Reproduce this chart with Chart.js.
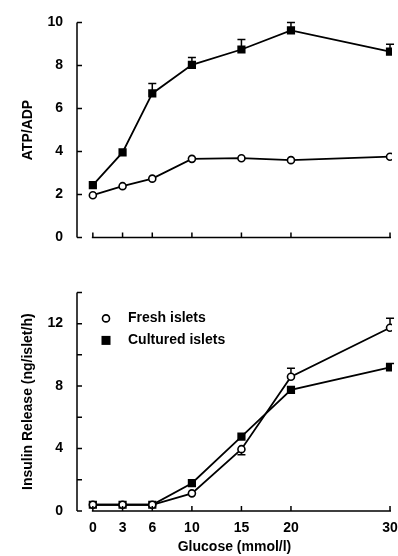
<!DOCTYPE html>
<html>
<head>
<meta charset="utf-8">
<script src="https://cdn.jsdelivr.net/npm/chart.js@4"></script>
<style>
  html, body { margin: 0; padding: 0; background: #fff; }
  #wrap { position: relative; width: 398px; height: 556px; overflow: hidden; }
  #topBox { position: absolute; left: 0; top: 0; }
  #botBox { position: absolute; left: 0; top: 270px; }
</style>
</head>
<body>
<div id="wrap">
  <div id="topBox"><canvas id="atpChart" width="398" height="260"></canvas></div>
  <div id="botBox"><canvas id="insChart" width="398" height="286"></canvas></div>
</div>
<script>
// Glucose concentrations (mmol/l)
const glucose = [0, 3, 6, 10, 15, 20, 30];

// ATP/ADP ratio
const atpFresh = [1.97, 2.39, 2.74, 3.66, 3.69, 3.60, 3.76];
const atpCultured = [2.44, 3.96, 6.70, 8.03, 8.74, 9.63, 8.64];
const atpCulturedErr = [null, null, 7.16, 8.37, 9.21, 10.0, 8.99];

// Insulin release (ng/islet/h)
const insFresh = [0.4, 0.4, 0.4, 1.13, 3.96, 8.60, 11.74];
const insFreshErr = [null, null, null, null, 3.61, 9.14, 12.35];
const insCultured = [0.4, 0.4, 0.4, 1.78, 4.76, 7.76, 9.20];
const insCulturedErr = [null, null, null, null, null, null, 9.45];

const seriesNames = ['Fresh islets', 'Cultured islets'];

const FONT = 'Liberation Sans, Arial, Helvetica, sans-serif';
Chart.defaults.font.family = FONT;
Chart.defaults.color = '#000';

function toPoints(ys) {
    return glucose.map((g, i) => ({ x: g, y: ys[i] }));
}

// Ejes dibujados a mano: marcas hacia dentro y eje x separado del eje y
const axesPlugin = {
    id: 'handAxes',
    afterDraw(chart) {
        const ctx = chart.ctx;
        const area = chart.chartArea;
        const xs = chart.scales.x;
        const ys = chart.scales.y;
        ctx.save();
        ctx.strokeStyle = '#000';
        ctx.lineWidth = 1.5;
        ctx.beginPath();
        ctx.moveTo(area.left, ys.getPixelForValue(ys.max));
        ctx.lineTo(area.left, ys.getPixelForValue(0));
        ys.ticks.forEach(t => {
            const py = ys.getPixelForValue(t.value);
            ctx.moveTo(area.left, py);
            ctx.lineTo(area.left + 5, py);
        });
        const by = ys.getPixelForValue(0);
        ctx.moveTo(xs.getPixelForValue(0) - 1, by);
        ctx.lineTo(xs.getPixelForValue(30) + 1, by);
        glucose.forEach(g => {
            const px = xs.getPixelForValue(g);
            ctx.moveTo(px, by);
            ctx.lineTo(px, by - 5);
        });
        ctx.stroke();
        ctx.restore();
    }
};

// Barras de error (solo un lado)
const errorPlugin = {
    id: 'errBars',
    beforeDatasetsDraw(chart) {
        const ctx = chart.ctx;
        const xs = chart.scales.x;
        const ys = chart.scales.y;
        ctx.save();
        ctx.strokeStyle = '#000';
        ctx.lineWidth = 1.5;
        chart.data.datasets.forEach(ds => {
            if (!ds.err) return;
            ds.err.forEach((e, i) => {
                if (e == null) return;
                const px = xs.getPixelForValue(glucose[i]);
                const p0 = ys.getPixelForValue(ds.data[i].y);
                const p1 = ys.getPixelForValue(e);
                ctx.beginPath();
                ctx.moveTo(px, p0);
                ctx.lineTo(px, p1);
                ctx.moveTo(px - 4, p1);
                ctx.lineTo(px + 4, p1);
                ctx.stroke();
            });
        });
        ctx.restore();
    }
};

// Leyenda dentro del area del grafico
const legendPlugin = {
    id: 'insideLegend',
    afterDraw(chart) {
        const ctx = chart.ctx;
        const area = chart.chartArea;
        const mx = area.left + 29;
        const rows = [area.top + 26, area.top + 48];
        ctx.save();
        ctx.font = 'bold 14px ' + FONT;
        ctx.fillStyle = '#000';
        ctx.textBaseline = 'middle';
        chart.data.datasets.forEach((ds, i) => {
            const my = rows[i];
            ctx.beginPath();
            if (ds.pointStyle === 'circle') {
                ctx.arc(mx, my, 3.5, 0, Math.PI * 2);
                ctx.fillStyle = '#fff';
                ctx.fill();
                ctx.lineWidth = 1.6;
                ctx.strokeStyle = '#000';
                ctx.stroke();
            } else {
                ctx.fillStyle = '#000';
                ctx.fillRect(mx - 4.5, my - 4.5, 9, 9);
            }
            ctx.fillStyle = '#000';
            ctx.fillText(ds.label, mx + 22, my);
        });
        ctx.restore();
    }
};

function makeDatasets(fresh, freshErr, cultured, culturedErr) {
    return [
        {
            label: seriesNames[0],
            data: toPoints(fresh),
            err: freshErr,
            borderColor: '#000',
            borderWidth: 1.8,
            pointStyle: 'circle',
            pointRadius: 3.5,
            pointBorderWidth: 1.6,
            pointBackgroundColor: '#fff',
            pointBorderColor: '#000',
            tension: 0
        },
        {
            label: seriesNames[1],
            data: toPoints(cultured),
            err: culturedErr,
            borderColor: '#000',
            borderWidth: 1.8,
            pointStyle: 'rect',
            pointRadius: 5.8,
            pointBorderWidth: 0,
            pointBackgroundColor: '#000',
            pointBorderColor: '#000',
            tension: 0
        }
    ];
}

function yTitle(text) {
    return {
        display: true,
        text: text,
        font: { size: 14, weight: 'bold' },
        color: '#000',
        padding: { top: 20, bottom: 0 }
    };
}

// Grafico superior: ATP/ADP
new Chart(document.getElementById('atpChart'), {
    type: 'line',
    data: { datasets: makeDatasets(atpFresh, null, atpCultured, atpCulturedErr) },
    options: {
        responsive: false,
        animation: false,
        layout: { padding: { top: 21, right: 6, bottom: 15, left: 0 } },
        plugins: { legend: { display: false }, tooltip: { enabled: false } },
        scales: {
            x: { type: 'linear', min: -1.6, max: 30.2, display: false },
            y: {
                min: 0, max: 10,
                grid: { display: false, drawTicks: false },
                border: { display: false },
                ticks: { stepSize: 2, padding: 14, font: { size: 14, weight: 'bold' }, color: '#000' },
                title: yTitle('ATP/ADP'),
                afterFit(scale) { scale.width = 77; }
            }
        }
    },
    plugins: [errorPlugin, axesPlugin]
});

// Grafico inferior: liberacion de insulina
new Chart(document.getElementById('insChart'), {
    type: 'line',
    data: { datasets: makeDatasets(insFresh, insFreshErr, insCultured, insCulturedErr) },
    options: {
        responsive: false,
        animation: false,
        layout: { padding: { top: 17, right: 6, bottom: 0, left: 0 } },
        plugins: { legend: { display: false }, tooltip: { enabled: false } },
        scales: {
            x: {
                type: 'linear', min: -1.6, max: 30.2,
                grid: { display: false, drawTicks: false },
                border: { display: false },
                afterBuildTicks(scale) { scale.ticks = glucose.map(v => ({ value: v })); },
                ticks: { padding: 9, autoSkip: false, maxRotation: 0, font: { size: 14, weight: 'bold' }, color: '#000' },
                title: {
                    display: true,
                    text: 'Glucose (mmol/l)',
                    font: { size: 14, weight: 'bold' },
                    color: '#000',
                    padding: 0
                },
                afterFit(scale) {
                    scale.height = 45;
                    scale.paddingLeft = 0;
                    scale.paddingRight = 0;
                }
            },
            y: {
                min: 0, max: 14,
                grid: { display: false, drawTicks: false },
                border: { display: false },
                ticks: {
                    stepSize: 2, padding: 14, font: { size: 14, weight: 'bold' }, color: '#000',
                    callback: v => (v % 4 === 0 && v < 14 ? v : '')
                },
                title: yTitle('Insulin Release (ng/islet/h)'),
                afterFit(scale) { scale.width = 77; }
            }
        }
    },
    plugins: [errorPlugin, axesPlugin, legendPlugin]
});
</script>
</body>
</html>
